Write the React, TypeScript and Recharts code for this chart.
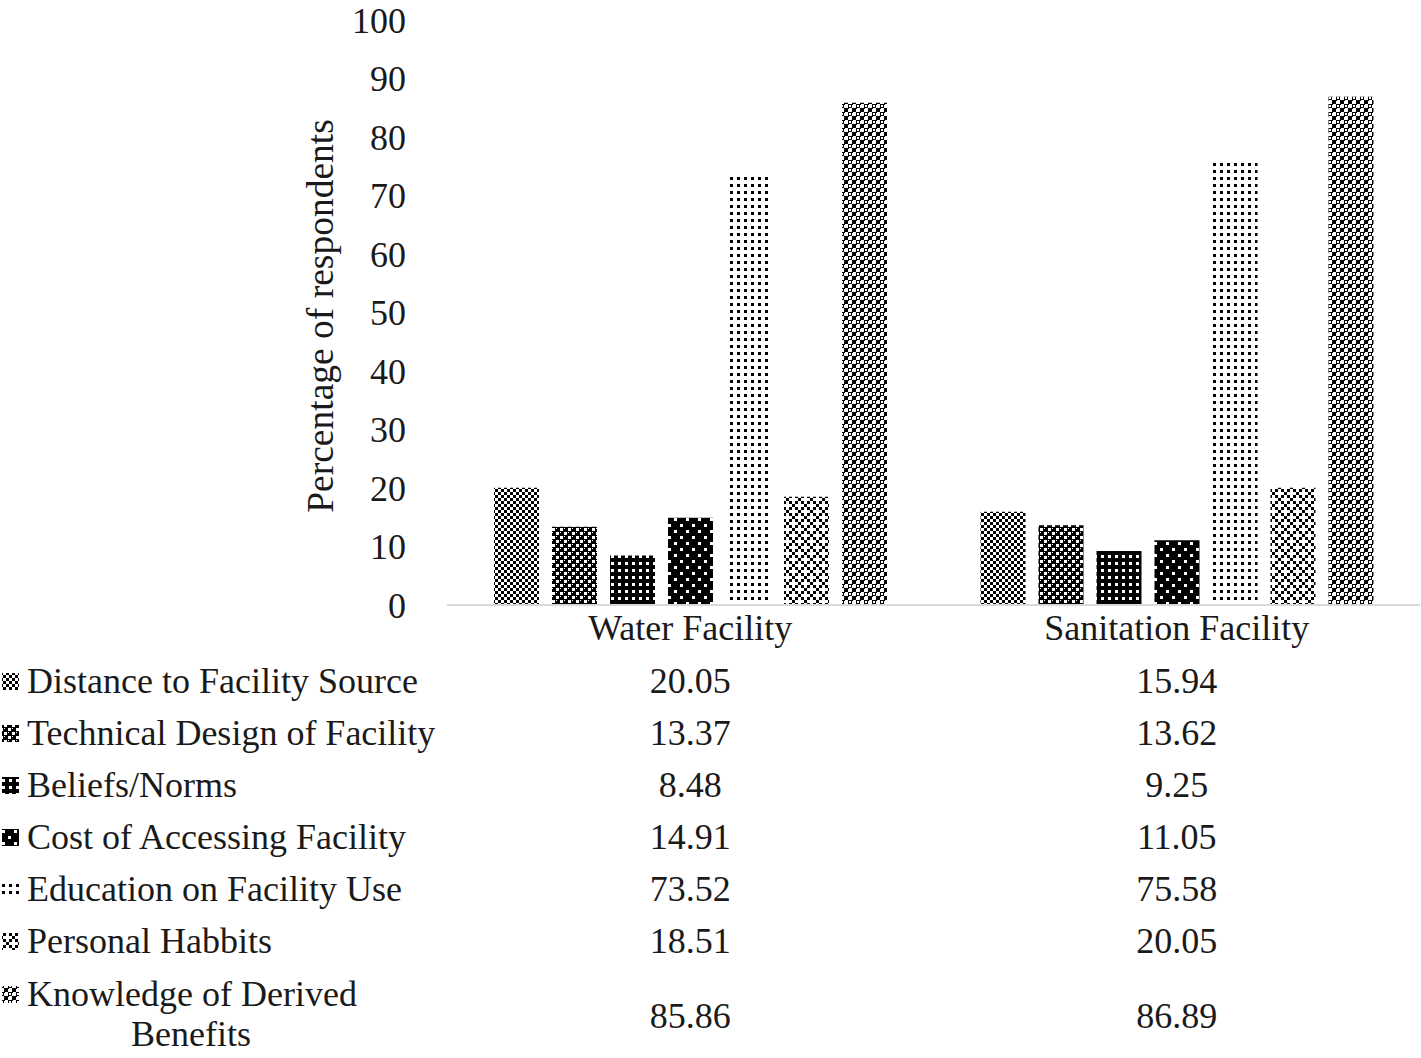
import React from 'react'
import { BarChart, Bar, XAxis, YAxis } from 'recharts'

const categories = ['Water Facility', 'Sanitation Facility']
const seriesNames = [
  'Distance to Facility Source',
  'Technical Design of Facility',
  'Beliefs/Norms',
  'Cost of Accessing Facility',
  'Education on Facility Use',
  'Personal Habbits',
  'Knowledge of Derived Benefits',
]
const distance = [20.05, 15.94]
const technical = [13.37, 13.62]
const beliefs = [8.48, 9.25]
const cost = [14.91, 11.05]
const education = [73.52, 75.58]
const habits = [18.51, 20.05]
const knowledge = [85.86, 86.89]
const yTicks = [0, 10, 20, 30, 40, 50, 60, 70, 80, 90, 100]

const seriesValues = [distance, technical, beliefs, cost, education, habits, knowledge]

const data = categories.map((name, i) => {
  const row: Record<string, string | number> = { name }
  seriesValues.forEach((vals, s) => {
    row['s' + s] = vals[i]
  })
  return row
})

const W = 1421
const H = 1058
const CHART_H = 650
const PLOT_LEFT = 447
const PLOT_RIGHT = 1420
const FONT = '"Liberation Serif", "Times New Roman", serif'
const FS = 36
const TEXT = '#1a1a1a'

function Patterns() {
  return (
    <svg width={0} height={0} style={{ position: 'absolute' }}>
      <defs>
        {/* small checkerboard */}
        <pattern id="pat-0" width={6} height={6} patternUnits="userSpaceOnUse">
          <rect width={6} height={6} fill="#fff" />
          <rect x={0} y={0} width={3} height={3} fill="#000" />
          <rect x={3} y={3} width={3} height={3} fill="#000" />
        </pattern>
        {/* dark checker with white holes */}
        <pattern id="pat-1" width={8} height={8} patternUnits="userSpaceOnUse">
          <rect width={8} height={8} fill="#000" />
          <rect x={0} y={0} width={3} height={3} fill="#fff" />
          <rect x={4} y={4} width={3} height={3} fill="#fff" />
          <rect x={4} y={0} width={1} height={1} fill="#fff" />
          <rect x={0} y={4} width={1} height={1} fill="#fff" />
        </pattern>
        {/* black with white grid squares */}
        <pattern id="pat-2" width={7} height={7} patternUnits="userSpaceOnUse">
          <rect width={7} height={7} fill="#000" />
          <rect x={2} y={2} width={3} height={3} fill="#fff" />
        </pattern>
        {/* black with offset white dots */}
        <pattern id="pat-3" width={12} height={12} patternUnits="userSpaceOnUse">
          <rect width={12} height={12} fill="#000" />
          <rect x={2} y={2} width={3} height={3} fill="#fff" />
          <rect x={8} y={8} width={3} height={3} fill="#fff" />
        </pattern>
        {/* white with black dot grid */}
        <pattern id="pat-4" width={7} height={7} patternUnits="userSpaceOnUse">
          <rect width={7} height={7} fill="#fff" />
          <rect x={2} y={2} width={3} height={3} fill="#000" />
        </pattern>
        {/* diamond lattice */}
        <pattern id="pat-5" width={12} height={12} patternUnits="userSpaceOnUse">
          <rect width={12} height={12} fill="#fff" />
          <rect x={0} y={0} width={3} height={3} fill="#000" />
          <rect x={3} y={3} width={3} height={3} fill="#000" />
          <rect x={6} y={6} width={3} height={3} fill="#000" />
          <rect x={9} y={9} width={3} height={3} fill="#000" />
          <rect x={3} y={9} width={3} height={3} fill="#000" />
          <rect x={9} y={3} width={3} height={3} fill="#000" />
        </pattern>
        {/* heavier checkerboard */}
        <pattern id="pat-6" width={8} height={8} patternUnits="userSpaceOnUse">
          <rect width={8} height={8} fill="#fff" />
          <rect x={0} y={0} width={4} height={4} fill="#000" />
          <rect x={4} y={4} width={4} height={4} fill="#000" />
          <rect x={1} y={1} width={2} height={2} fill="#fff" />
          <rect x={4} y={0} width={1} height={1} fill="#000" />
          <rect x={0} y={4} width={1} height={1} fill="#000" />
        </pattern>
      </defs>
    </svg>
  )
}

function DataTable() {
  const colW = (PLOT_RIGHT - PLOT_LEFT) / categories.length
  const rowBase = [693, 745, 797, 849, 901, 953]
  return (
    <svg width={W} height={H} style={{ position: 'absolute', left: 0, top: 0, pointerEvents: 'none' }}>
      {seriesNames.map((name, s) => {
        const last = s === seriesNames.length - 1
        const base = last ? 1028 : rowBase[s]
        const keyY = last ? 986 : base - 20
        return (
          <g key={name} fontFamily={FONT} fontSize={FS} fill={TEXT}>
            <rect x={2} y={keyY} width={17} height={17} fill={`url(#pat-${s})`} />
            {last ? (
              <>
                <text x={27} y={1006}>Knowledge of Derived</text>
                <text x={191} y={1046} textAnchor="middle">Benefits</text>
              </>
            ) : (
              <text x={27} y={base}>{name}</text>
            )}
            {categories.map((c, i) => (
              <text key={c} x={PLOT_LEFT + colW * (i + 0.5)} y={base} textAnchor="middle">
                {seriesValues[s][i].toFixed(2)}
              </text>
            ))}
          </g>
        )
      })}
    </svg>
  )
}

export default function App() {
  return (
    <div style={{ position: 'absolute', left: 0, top: 0, width: W, height: H, background: '#fff' }}>
      <Patterns />
      <BarChart
        width={W}
        height={CHART_H}
        data={data}
        margin={{ top: 20, right: W - PLOT_RIGHT, left: 0, bottom: 0 }}
        barSize={45}
        barGap={13}
      >
        <XAxis
          dataKey="name"
          height={45}
          tickLine={false}
          tickSize={0}
          tickMargin={9}
          axisLine={{ stroke: '#d9d9d9', strokeWidth: 2 }}
          tick={{ fontSize: FS, fontFamily: FONT, fill: TEXT }}
        />
        <YAxis
          width={PLOT_LEFT}
          domain={[0, 100]}
          ticks={yTicks}
          interval={0}
          axisLine={false}
          tickLine={false}
          tickSize={0}
          tickMargin={41}
          tick={{ fontSize: FS, fontFamily: FONT, fill: TEXT }}
          label={{
            content: () => (
              <text
                x={320}
                y={316}
                transform="rotate(-90 320 316)"
                textAnchor="middle"
                dominantBaseline="central"
                fontSize={37.5}
                fontFamily={FONT}
                fill={TEXT}
              >
                Percentage of respondents
              </text>
            ),
          }}
        />
        {seriesNames.map((name, s) => (
          <Bar key={name} dataKey={'s' + s} name={name} fill={`url(#pat-${s})`} isAnimationActive={false} />
        ))}
      </BarChart>
      <DataTable />
    </div>
  )
}
